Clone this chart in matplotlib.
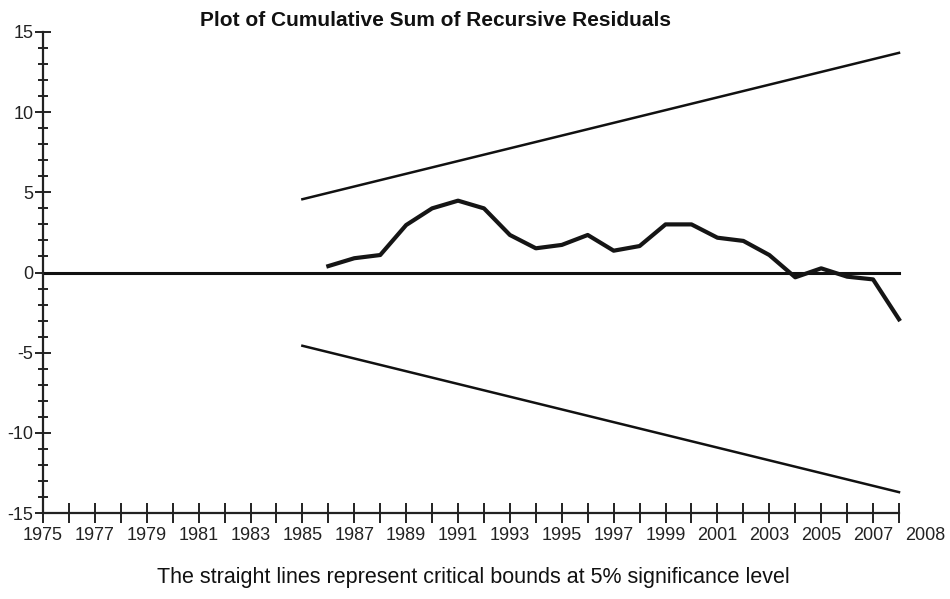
import matplotlib
matplotlib.use("Agg")
import matplotlib.pyplot as plt
from matplotlib import font_manager
import numpy as np

# ---- data ----
years = [1986, 1987, 1988, 1989, 1990, 1991, 1992, 1993, 1994, 1995, 1996,
         1997, 1998, 1999, 2000, 2001, 2002, 2003, 2004, 2005, 2006, 2007, 2008]
cusum = [0.4, 0.89, 1.09, 2.96, 4.0, 4.48, 4.0, 2.34, 1.51, 1.72, 2.34,
         1.36, 1.65, 3.0, 3.0, 2.17, 1.97, 1.09, -0.3, 0.26, -0.26, -0.43, -2.92]
bound_years = [1985, 2008]
upper_bound = [4.57, 13.7]
lower_bound = [-4.57, -13.7]
zero_years = [1975, 2008]
zero_line = [0, 0]
xtick_labels = ["1975", "1977", "1979", "1981", "1983", "1985", "1987", "1989",
                "1991", "1993", "1995", "1997", "1999", "2001", "2003", "2005",
                "2007", "2008"]
ytick_values = [-15, -10, -5, 0, 5, 10, 15]
title = "Plot of Cumulative Sum of Recursive Residuals"
caption = "The straight lines represent critical bounds at 5% significance level"

# ---- font ----
avail = {f.name for f in font_manager.fontManager.ttflist}
fam = "Liberation Sans Narrow" if "Liberation Sans Narrow" in avail else "Liberation Sans"
plt.rcParams["font.family"] = [fam, "DejaVu Sans"]
plt.rcParams["axes.unicode_minus"] = False

fig = plt.figure(figsize=(9.5, 5.99), dpi=100)
ax = fig.add_axes([43 / 950, 1 - 513 / 599, (899 - 43) / 950, (513 - 32) / 599])

ax.plot(bound_years, upper_bound, color="#111111", lw=1.8, clip_on=False)
ax.plot(bound_years, lower_bound, color="#111111", lw=1.8, clip_on=False)
ax.plot(zero_years, zero_line, color="#111111", lw=2.2, clip_on=False)
ax.plot(years, cusum, color="#151515", lw=3.0, clip_on=False, solid_joinstyle="round")

ax.set_xlim(1975, 2008)
ax.set_ylim(-15, 15)

for s in ["top", "right"]:
    ax.spines[s].set_visible(False)
for s in ["left", "bottom"]:
    ax.spines[s].set_linewidth(1.6)
    ax.spines[s].set_color("#222222")

# x ticks: every year, labels on odd years (+ a final "2008" label to the right)
tick_years = list(range(1975, 2009))
ax.set_xticks(tick_years)
label_map = {int(l): l for l in xtick_labels[:-1]}
ax.set_xticklabels([label_map.get(y, "") for y in tick_years])
ax.tick_params(axis="x", direction="inout", length=14, width=1.4, color="#222222",
               labelsize=13, labelcolor="#222222", pad=3)
ax.annotate(xtick_labels[-1], xy=(2009, -15), xycoords="data",
            xytext=(0, -10), textcoords="offset points",
            ha="center", va="top", fontsize=13, color="#222222",
            annotation_clip=False)

ax.set_yticks(ytick_values)
ax.set_yticks(np.arange(-15, 16, 1), minor=True)
ax.tick_params(axis="y", which="major", direction="inout", length=12, width=1.4,
               color="#222222", labelsize=13, labelcolor="#222222", pad=1)
ax.tick_params(axis="y", which="minor", direction="inout", length=7, width=1.4,
               color="#222222")
ax.tick_params(axis="x", which="minor", bottom=False)

fig.text(435 / 950, 1 - 20 / 599, title, ha="center", va="center",
         fontsize=15, fontweight="bold", color="#111111")
fig.text(473 / 950, 1 - 578 / 599, caption, ha="center", va="center",
         fontsize=15.5, color="#111111")

fig.savefig("out.png", dpi=100, facecolor="white")
